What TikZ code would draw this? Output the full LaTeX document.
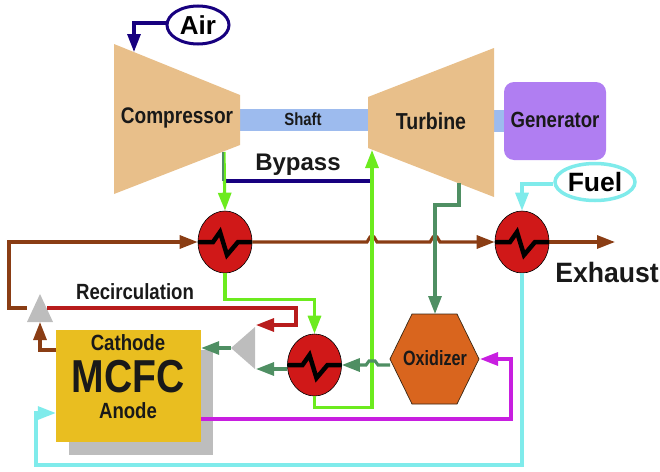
\documentclass[tikz,border=0pt]{standalone}
\usepackage{fontspec}
\setmainfont{Liberation Sans}
\usetikzlibrary{shapes.geometric,arrows.meta,calc}
\definecolor{tan1}{HTML}{E8BF8A}
\definecolor{shaftc}{HTML}{9DBBEE}
\definecolor{genc}{HTML}{B07EF2}
\definecolor{navy1}{HTML}{17007F}
\definecolor{cyan1}{HTML}{7FEBEB}
\definecolor{hxred}{HTML}{D01818}
\definecolor{brown1}{HTML}{8A3D14}
\definecolor{red1}{HTML}{B81C1C}
\definecolor{green1}{HTML}{6CEB1E}
\definecolor{dgreen}{HTML}{4F8F63}
\definecolor{magenta1}{HTML}{C81EE0}
\definecolor{orange1}{HTML}{D9651E}
\definecolor{yellow1}{HTML}{E9BE20}
\definecolor{gray1}{HTML}{BDBDBD}
\tikzset{
  x=1pt,y=-1pt,
  lbl/.style={text=black!90,inner sep=0pt},
  narrow/.style={xscale=.93,yscale=1.1},
  flow/.style={line width=3.1pt,-{Triangle[length=18pt,width=13pt]},line join=miter},
  hx/.style={draw=black,fill=hxred,line width=0.6pt,ellipse,minimum width=54pt,minimum height=62pt,inner sep=0pt},
  tag/.style={ellipse,fill=white,inner sep=0pt}
}
\newcommand{\fs}[1]{\bfseries\fontsize{#1}{#1}\selectfont}
\newcommand{\zigzag}[1]{%
  \draw[line width=4.5pt,black,line join=miter]
    ($(#1.center)+(-27,0)$) -- ++(15,0) -- ++(7,-10) -- ++(7,23) -- ++(11,-13) -- ++(14,0);}
\begin{document}
\begin{tikzpicture}
\useasboundingbox (0,0) rectangle (660,471);
% shadow and shafts
\fill[gray1] (69,350) rectangle (213,455);
\node[fill=shaftc,minimum width=128pt,minimum height=22pt,inner sep=0pt] (shaft) at (304,120) {};
\fill[shaftc] (494,110) rectangle (504,132);
% machines
\fill[tan1] (114,44) -- (240,95) -- (240,145) -- (114,194) -- cycle;
\fill[tan1] (368,97) -- (494,48) -- (494,197) -- (368,148) -- cycle;
\node[lbl,font=\fs{20.5},narrow] (comp) at (177,118) {Compressor};
\node[lbl,font=\fs{21},narrow] (turb) at (431,121) {Turbine};
\node[lbl,font=\fs{16},narrow] (shafttxt) at (303,119) {Shaft};
\node[fill=genc,rounded corners=10pt,minimum width=102pt,minimum height=78pt,inner sep=0pt] (gen) at (555,121) {};
\node[lbl,font=\fs{20},narrow] (gentxt) at (555,120) {Generator};
% tags
\node[tag,draw=navy1,line width=3pt,minimum width=62pt,minimum height=38pt,font=\fs{26}] (air) at (198,25) {Air};
\node[tag,draw=cyan1,line width=3.5pt,minimum width=80pt,minimum height=37pt,font=\fs{26.5}] (fuel) at (595,182) {Fuel};
% helper points
\coordinate (airin) at (134,52);
\coordinate (compout) at (224,152);
\coordinate (bypa) at (224,181);
\coordinate (bypb) at (371,181);
\coordinate (turbin) at (372,150);
\coordinate (turbout) at (459,183);
\coordinate (exh) at (615,242);
\coordinate (mcool) at (9,308);
% heat exchangers
\node[hx] (hxa) at (225,242) {};
\node[hx] (hxb) at (522,242) {};
\node[hx] (hxc) at (314.5,365) {};
% MCFC
\node[fill=yellow1,minimum width=145pt,minimum height=112pt,inner sep=0pt] (mcfc) at (128.5,386) {};
\node[lbl,font=\fs{20},narrow] (cath) at (128,343) {Cathode};
\node[lbl,font=\fs{42},narrow] (mc) at (128,377) {MCFC};
\node[lbl,font=\fs{20},narrow] (anod) at (128,411) {Anode};
% oxidizer
\fill[orange1,draw=black!70!brown,line width=.7pt] (390,359) -- (412,314) -- (457,314) -- (479,359) -- (457,404) -- (412,404) -- cycle;
\node[lbl,font=\fs{18.8},xscale=.86,yscale=1.1] (oxid) at (435,358) {Oxidizer};
\coordinate (oxn) at (435,314);
\coordinate (oxe) at (480,359);
\coordinate (oxw) at (390,365);
% gray mixers
\fill[gray1] (40,294) -- (53,322) -- (27,322) -- cycle;
\fill[gray1] (231,348) -- (255,327) -- (255,369) -- cycle;
\coordinate (mixa) at (27,308);
\coordinate (mixar) at (47,308);
\coordinate (mixab) at (40,322);
\coordinate (mixbe) at (256,325);
\coordinate (mixbw) at (231,348);
\coordinate (mixbs) at (256,369);
% labels
\node[lbl,font=\fs{24}] (byp) at (298,165) {Bypass};
\node[lbl,font=\fs{20},narrow] (recirc) at (135,292) {Recirculation};
\node[lbl,font=\fs{28},xscale=.95] (exhaust) at (607,272) {Exhaust};
% connectors
\draw[flow,navy1] ($(air.west)+(0,-2)$) -| (airin);
\draw[flow,cyan1] ($(fuel.west)+(0,2)$) -| (hxb.north);
\draw[navy1,line width=3.1pt] (bypa) -- (bypb);
\draw[flow,green1] (compout) -- (hxa.north);
\draw[dgreen,line width=1.4pt] ($(compout)+(-1,0)$) -- ($(bypa)+(-1,0)$);
\draw[flow,brown1] (mixa) -- (mcool) |- (hxa.west);
\draw[flow,brown1] (hxa.east) -- (367,242) -- (370,237) -- (374,237) -- (377,242)
   -- (430,242) -- (433,237) -- (437,237) -- (440,242) -- (hxb.west);
\draw[flow,brown1] (hxb.east) -- (exh);
\draw[flow,green1] (hxa.south) |- ++(45,26) -| (hxc.north);
\draw[flow,green1] (hxc.south) -- ++(0,11) -| (turbin);
\draw[flow,dgreen] (turbout) |- ($(oxn)+(0,-109)$) -- (oxn);
\draw[flow,dgreen] (oxw) -- (378,365) -- (375,361) -- (369,361) -- (366,365) -- (hxc.east);
\draw[flow,dgreen] (hxc.west |- mixbs) -- (mixbs);
\draw[flow,dgreen] (mixbw) -- (mcfc.east |- mixbw);
\draw[flow,red1] (mixar) -| (296,325) -- (mixbe);
\draw[flow,brown1] (mcfc.west |- 0,350) -| (mixab);
\draw[flow,magenta1] (mcfc.east |- 0,419) -| (511,359) -- (oxe);
\draw[flow,cyan1] (hxb.south) |- (36,465) |- (mcfc.west |- 0,413);
% zigzags
\zigzag{hxa}\zigzag{hxb}\zigzag{hxc}
\end{tikzpicture}
\end{document}
